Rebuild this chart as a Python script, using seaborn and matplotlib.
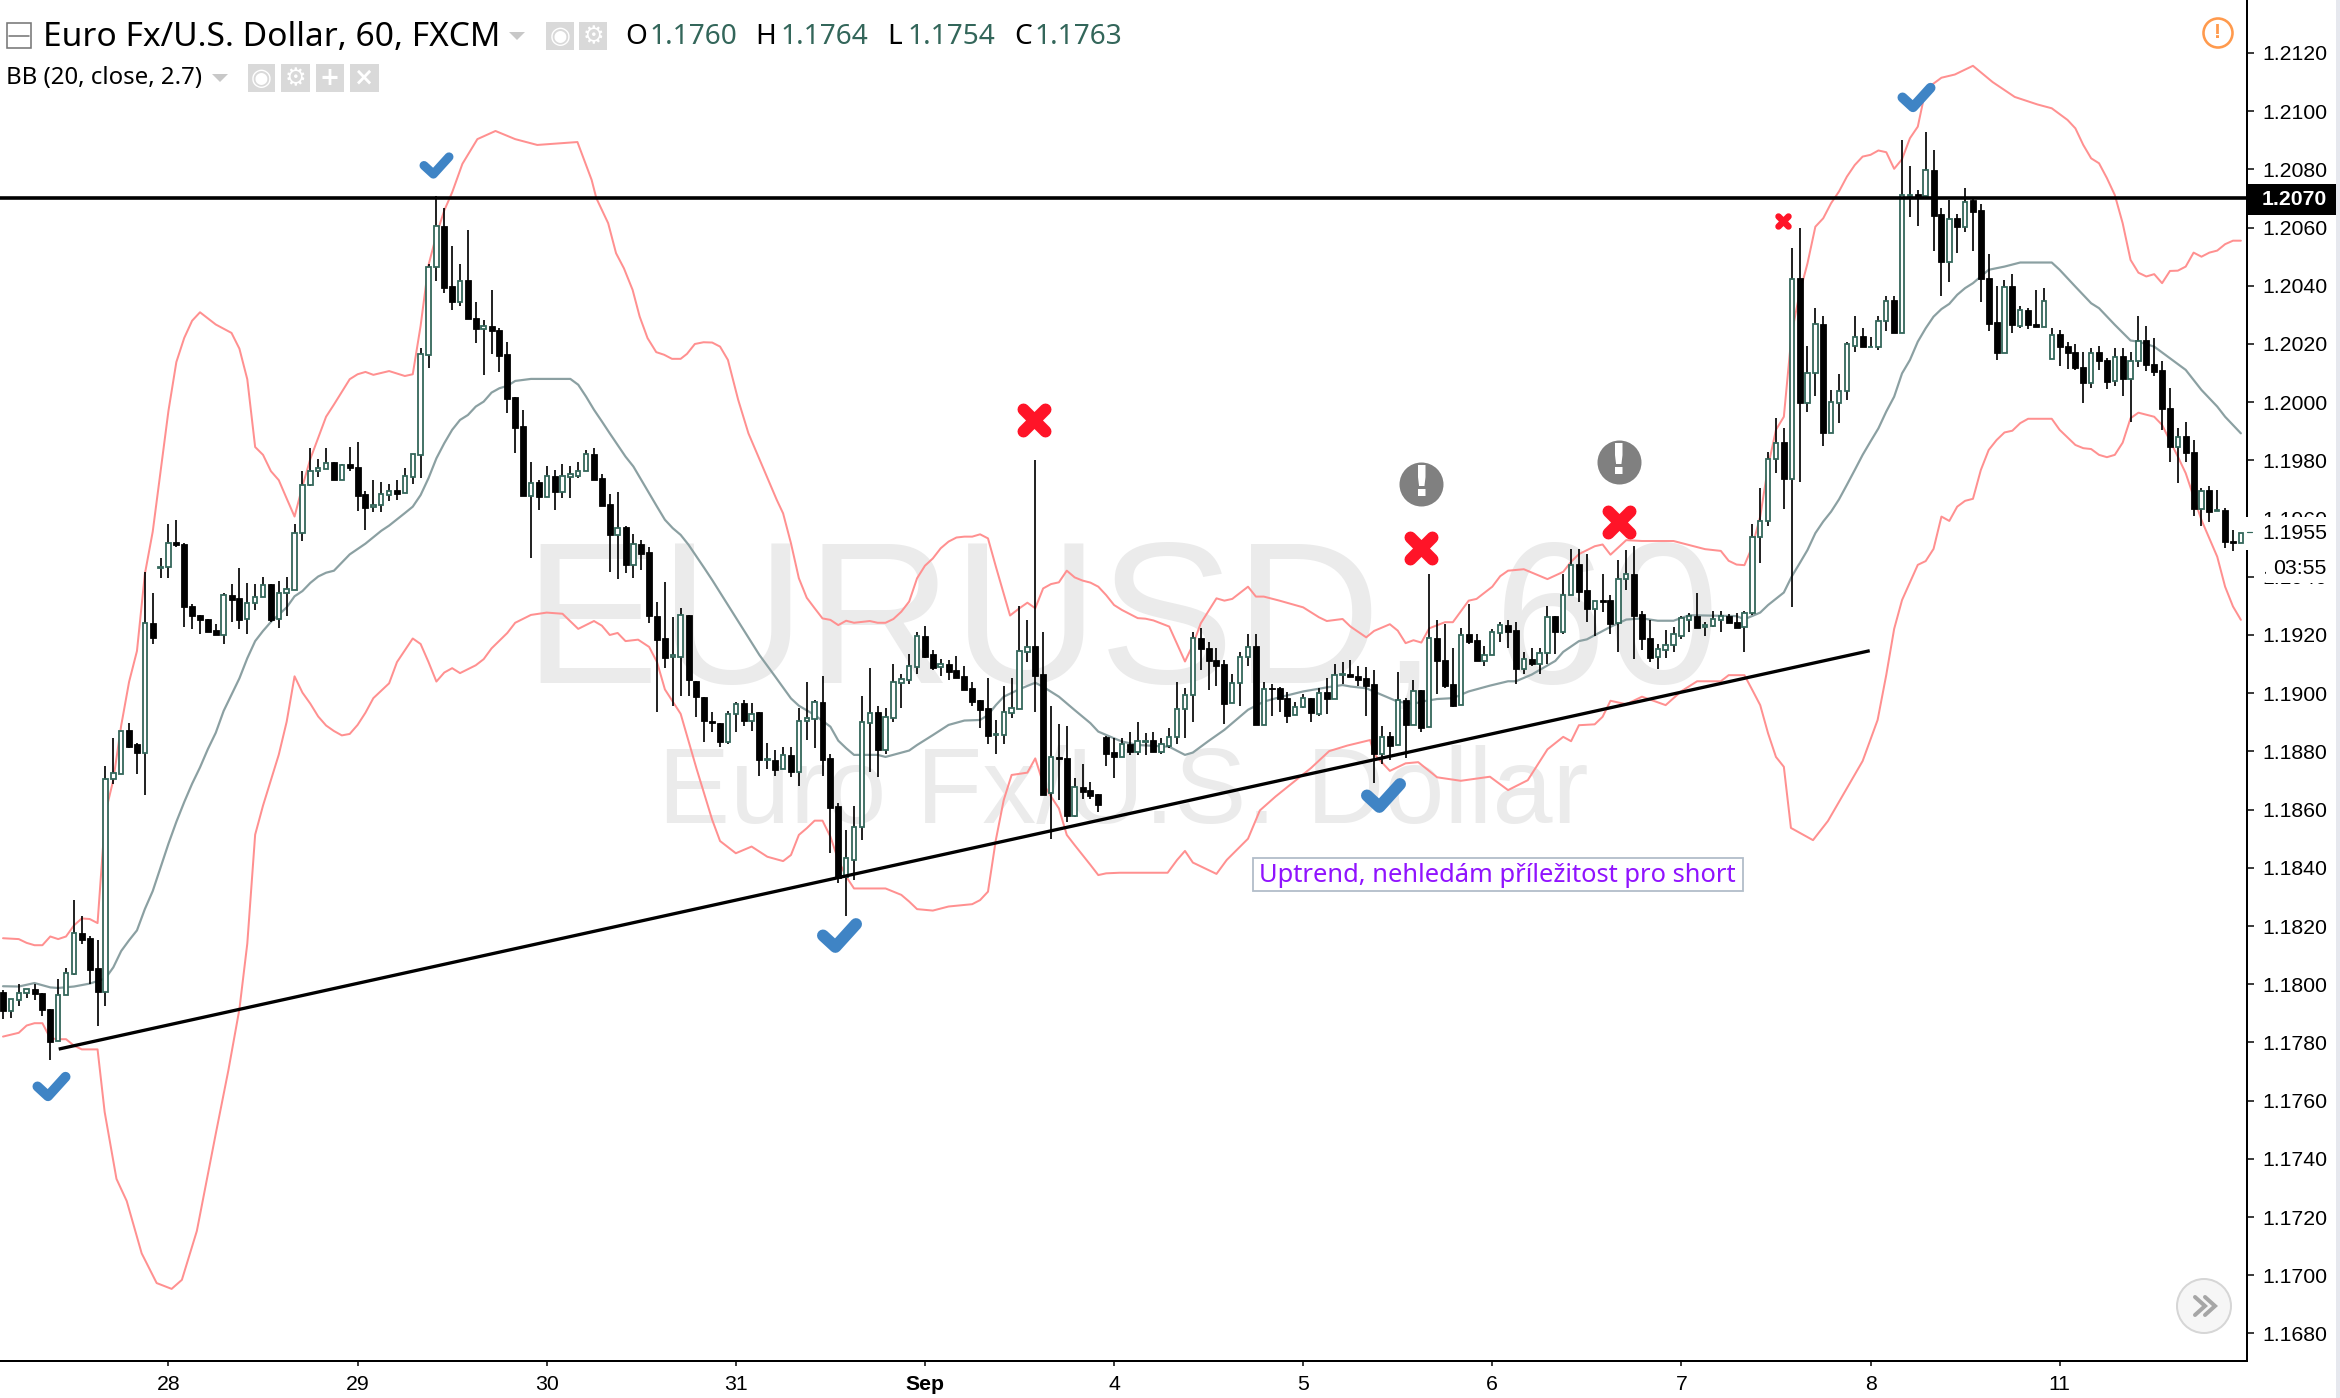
"""
Hourly EURUSD candle chart with Bollinger bands and hand drawn trade notes.
"""

import matplotlib
matplotlib.use('Agg')
import matplotlib.pyplot as plt
import numpy as np
import pandas as pd
import seaborn as sns
from matplotlib.lines import Line2D
from matplotlib.markers import MarkerStyle
from matplotlib.patches import Ellipse, Polygon, Rectangle
from matplotlib.path import Path
from matplotlib.transforms import Affine2D

opens = [
    1.17974,1.17908,1.17945,1.17969,1.17985,1.17971,1.17916,1.17804,1.17963,1.18035,
    1.18176,1.18158,1.18054,1.17974,1.18704,1.18724,1.18873,1.18824,1.18794,1.19241,
    1.19431,1.19433,1.19518,1.19511,1.19299,1.19270,1.19256,1.19216,1.19199,1.19339,
    1.19326,1.19254,1.19310,1.19330,1.19374,1.19254,1.19343,1.19356,1.19550,1.19715,
    1.19765,1.19769,1.19794,1.19734,1.19788,1.19777,1.19683,1.19640,1.19647,1.19682,
    1.19698,1.19687,1.19743,1.19818,1.20162,1.20464,1.20606,1.20400,1.20346,1.20420,
    1.20290,1.20250,1.20262,1.20249,1.20166,1.20017,1.19919,1.19679,1.19726,1.19675,
    1.19747,1.19693,1.19742,1.19747,1.19763,1.19822,1.19739,1.19649,1.19543,1.19570,
    1.19441,1.19512,1.19486,1.19267,1.19190,1.19123,1.19123,1.19269,1.19042,1.18988,
    1.18905,1.18898,1.18832,1.18930,1.18965,1.18903,1.18934,1.18769,1.18771,1.18738,
    1.18788,1.18730,1.18903,1.18910,1.18970,1.18776,1.18612,1.18370,1.18427,1.18539,
    1.18897,1.18935,1.18805,1.18916,1.19034,1.19045,1.19090,1.19197,1.19135,1.19089,
    1.19102,1.19079,1.19059,1.19017,1.18976,1.18948,1.18855,1.18855,1.18931,1.18945,
    1.19143,1.19162,1.19066,1.18656,1.18782,1.18776,1.18578,1.18679,1.18666,1.18653,
    1.18851,1.18797,1.18780,1.18825,1.18799,1.18834,1.18838,1.18799,1.18820,1.18849,
    1.18945,1.18993,1.19189,1.19154,1.19114,1.19101,1.18965,1.19034,1.19124,1.19161,
    1.18889,1.19018,1.19018,1.18984,1.18925,1.18952,1.18983,1.18928,1.19003,1.18980,
    1.19061,1.19065,1.19058,1.19051,1.19031,1.18792,1.18853,1.18821,1.18977,1.18890,
    1.19010,1.18884,1.19189,1.19113,1.19031,1.18959,1.19203,1.19183,1.19110,1.19131,
    1.19206,1.19236,1.19217,1.19082,1.19119,1.19101,1.19137,1.19265,1.19211,1.19337,
    1.19444,1.19353,1.19288,1.19319,1.19319,1.19240,1.19391,1.19409,1.19271,1.19188,
    1.19123,1.19150,1.19164,1.19197,1.19252,1.19265,1.19226,1.19232,1.19253,1.19264,
    1.19243,1.19226,1.19275,1.19536,1.19591,1.19804,1.19863,1.19736,1.20426,1.19996,
    1.20099,1.20268,1.19893,1.19996,1.20039,1.20194,1.20228,1.20189,1.20188,1.20278,
    1.20351,1.20237,1.20709,1.20716,1.20707,1.20797,1.20646,1.20483,1.20632,1.20601,
    1.20694,1.20660,1.20426,1.20275,1.20168,1.20398,1.20263,1.20317,1.20269,1.20257,
    1.20149,1.20233,1.20192,1.20172,1.20122,1.20065,1.20172,1.20145,1.20073,1.20158,
    1.20079,1.20143,1.20214,1.20130,1.20111,1.19979,1.19845,1.19884,1.19829,1.19632,
    1.19698,1.19625,1.19630,1.19523,1.19515,
]
closes = [
    1.17908,1.17949,1.17970,1.17983,1.17966,1.17911,1.17801,1.17964,1.18039,1.18176,
    1.18151,1.18049,1.17974,1.18706,1.18726,1.18871,1.18816,1.18793,1.19241,1.19189,
    1.19435,1.19516,1.19508,1.19295,1.19266,1.19251,1.19211,1.19199,1.19339,1.19321,
    1.19251,1.19310,1.19330,1.19373,1.19251,1.19345,1.19359,1.19551,1.19717,1.19763,
    1.19773,1.19792,1.19734,1.19784,1.19775,1.19679,1.19638,1.19647,1.19684,1.19696,
    1.19686,1.19745,1.19821,1.20164,1.20466,1.20604,1.20394,1.20346,1.20418,1.20285,
    1.20250,1.20262,1.20243,1.20160,1.20010,1.19913,1.19679,1.19724,1.19674,1.19745,
    1.19693,1.19745,1.19753,1.19765,1.19821,1.19734,1.19645,1.19542,1.19566,1.19439,
    1.19511,1.19479,1.19267,1.19184,1.19121,1.19130,1.19269,1.19044,1.18986,1.18903,
    1.18898,1.18832,1.18930,1.18963,1.18903,1.18930,1.18771,1.18775,1.18736,1.18788,
    1.18730,1.18905,1.18914,1.18970,1.18771,1.18607,1.18364,1.18433,1.18541,1.18900,
    1.18933,1.18805,1.18919,1.19037,1.19050,1.19092,1.19195,1.19126,1.19086,1.19100,
    1.19074,1.19053,1.19011,1.18971,1.18942,1.18854,1.18859,1.18934,1.18948,1.19146,
    1.19160,1.19060,1.18650,1.18782,1.18773,1.18578,1.18679,1.18662,1.18647,1.18615,
    1.18791,1.18780,1.18825,1.18799,1.18837,1.18837,1.18799,1.18825,1.18851,1.18947,
    1.18995,1.19188,1.19151,1.19109,1.19095,1.18963,1.19036,1.19126,1.19160,1.18889,
    1.19016,1.19014,1.18979,1.18923,1.18954,1.18983,1.18931,1.19002,1.18979,1.19064,
    1.19065,1.19054,1.19046,1.19026,1.18791,1.18851,1.18820,1.18975,1.18889,1.19009,
    1.18882,1.19188,1.19110,1.19025,1.18956,1.19201,1.19176,1.19109,1.19132,1.19209,
    1.19235,1.19211,1.19082,1.19118,1.19102,1.19139,1.19263,1.19211,1.19339,1.19441,
    1.19348,1.19288,1.19318,1.19314,1.19237,1.19394,1.19408,1.19266,1.19185,1.19122,
    1.19153,1.19166,1.19202,1.19258,1.19264,1.19225,1.19236,1.19256,1.19264,1.19240,
    1.19225,1.19276,1.19538,1.19593,1.19806,1.19861,1.19735,1.20425,1.19996,1.20102,
    1.20267,1.19893,1.19999,1.20040,1.20199,1.20225,1.20188,1.20191,1.20280,1.20349,
    1.20237,1.20712,1.20712,1.20701,1.20797,1.20641,1.20483,1.20631,1.20601,1.20689,
    1.20655,1.20422,1.20270,1.20168,1.20397,1.20264,1.20316,1.20264,1.20257,1.20349,
    1.20232,1.20189,1.20168,1.20117,1.20065,1.20170,1.20141,1.20071,1.20157,1.20079,
    1.20143,1.20212,1.20127,1.20105,1.19976,1.19845,1.19882,1.19824,1.19632,1.19696,
    1.19624,1.19629,1.19521,1.19515,1.19552,
]
highs = [
    1.17979,1.17949,1.17999,1.17983,1.18001,1.17971,1.17916,1.18019,1.18054,1.18289,
    1.18233,1.18164,1.18151,1.18749,1.18845,1.18871,1.18899,1.18829,1.19416,1.19346,
    1.19464,1.19580,1.19594,1.19516,1.19306,1.19270,1.19256,1.19239,1.19345,1.19374,
    1.19430,1.19380,1.19374,1.19401,1.19374,1.19386,1.19401,1.19580,1.19763,1.19842,
    1.19805,1.19842,1.19794,1.19788,1.19846,1.19863,1.19694,1.19733,1.19725,1.19719,
    1.19733,1.19773,1.19821,1.20186,1.20474,1.20709,1.20667,1.20537,1.20475,1.20592,
    1.20345,1.20283,1.20386,1.20254,1.20206,1.20019,1.19974,1.19795,1.19733,1.19781,
    1.19768,1.19788,1.19781,1.19795,1.19836,1.19843,1.19753,1.19685,1.19690,1.19575,
    1.19548,1.19527,1.19502,1.19315,1.19382,1.19263,1.19294,1.19269,1.19042,1.18988,
    1.18936,1.18898,1.18940,1.18971,1.18975,1.18967,1.18934,1.18829,1.18804,1.18815,
    1.18815,1.18950,1.19039,1.18977,1.19059,1.18791,1.18624,1.18530,1.18612,1.18990,
    1.19086,1.18956,1.18948,1.19100,1.19066,1.19135,1.19212,1.19231,1.19149,1.19116,
    1.19114,1.19128,1.19094,1.19039,1.18976,1.19052,1.18908,1.19025,1.19052,1.19300,
    1.19252,1.19803,1.19210,1.18956,1.18894,1.18887,1.18707,1.18757,1.18694,1.18653,
    1.18854,1.18845,1.18845,1.18866,1.18900,1.18862,1.18866,1.18845,1.18880,1.19038,
    1.19017,1.19209,1.19223,1.19175,1.19154,1.19114,1.19065,1.19140,1.19203,1.19203,
    1.19038,1.19031,1.19023,1.19003,1.18969,1.18996,1.18983,1.19017,1.19051,1.19099,
    1.19106,1.19114,1.19094,1.19091,1.19079,1.18888,1.18868,1.19072,1.18983,1.19044,
    1.19010,1.19410,1.19251,1.19238,1.19154,1.19223,1.19307,1.19203,1.19162,1.19222,
    1.19243,1.19251,1.19243,1.19140,1.19154,1.19154,1.19299,1.19265,1.19408,1.19497,
    1.19497,1.19478,1.19318,1.19408,1.19339,1.19457,1.19492,1.19505,1.19284,1.19251,
    1.19169,1.19217,1.19229,1.19265,1.19277,1.19346,1.19243,1.19284,1.19284,1.19271,
    1.19277,1.19283,1.19580,1.19704,1.19828,1.19945,1.19910,1.20529,1.20598,1.20193,
    1.20324,1.20296,1.20042,1.20097,1.20208,1.20296,1.20254,1.20225,1.20296,1.20365,
    1.20365,1.20901,1.20812,1.20729,1.20929,1.20867,1.20666,1.20695,1.20647,1.20735,
    1.20701,1.20681,1.20508,1.20400,1.20420,1.20440,1.20331,1.20323,1.20386,1.20392,
    1.20254,1.20248,1.20208,1.20200,1.20172,1.20185,1.20193,1.20151,1.20185,1.20185,
    1.20172,1.20296,1.20262,1.20221,1.20143,1.20048,1.19910,1.19931,1.19870,1.19704,
    1.19712,1.19698,1.19635,1.19561,1.19552,
]
lows = [
    1.17879,1.17885,1.17926,1.17954,1.17945,1.17891,1.17741,1.17804,1.17963,1.18030,
    1.18139,1.18001,1.17858,1.17926,1.18689,1.18724,1.18811,1.18724,1.18649,1.19170,
    1.19396,1.19396,1.19501,1.19226,1.19219,1.19204,1.19211,1.19199,1.19170,1.19245,
    1.19219,1.19204,1.19286,1.19330,1.19244,1.19225,1.19266,1.19356,1.19523,1.19711,
    1.19742,1.19769,1.19734,1.19734,1.19763,1.19627,1.19561,1.19624,1.19624,1.19659,
    1.19665,1.19687,1.19720,1.19741,1.20119,1.20415,1.20375,1.20317,1.20331,1.20285,
    1.20202,1.20092,1.20167,1.20105,1.19962,1.19824,1.19679,1.19466,1.19630,1.19675,
    1.19630,1.19672,1.19672,1.19741,1.19763,1.19734,1.19645,1.19418,1.19392,1.19412,
    1.19395,1.19424,1.19242,1.18934,1.19086,1.18957,1.18992,1.18992,1.18919,1.18832,
    1.18867,1.18815,1.18825,1.18867,1.18888,1.18871,1.18717,1.18738,1.18717,1.18738,
    1.18711,1.18680,1.18839,1.18811,1.18716,1.18450,1.18347,1.18234,1.18358,1.18496,
    1.18730,1.18711,1.18791,1.18902,1.18948,1.19033,1.19066,1.19120,1.19080,1.19059,
    1.19045,1.19051,1.19011,1.18956,1.18882,1.18827,1.18791,1.18825,1.18916,1.18945,
    1.19108,1.18937,1.18650,1.18498,1.18633,1.18559,1.18573,1.18635,1.18635,1.18593,
    1.18751,1.18710,1.18780,1.18788,1.18786,1.18786,1.18799,1.18791,1.18813,1.18826,
    1.18847,1.18902,1.19080,1.19011,1.19025,1.18894,1.18965,1.18957,1.19094,1.18889,
    1.18889,1.18923,1.18937,1.18896,1.18925,1.18948,1.18902,1.18923,1.18930,1.18980,
    1.19031,1.19054,1.19025,1.18923,1.18691,1.18758,1.18771,1.18821,1.18779,1.18890,
    1.18868,1.18884,1.18998,1.19019,1.18951,1.18959,1.19170,1.19109,1.19094,1.19131,
    1.19177,1.19156,1.19033,1.19066,1.19094,1.19066,1.19100,1.19134,1.19203,1.19337,
    1.19314,1.19244,1.19197,1.19279,1.19203,1.19142,1.19354,1.19116,1.19148,1.19108,
    1.19082,1.19122,1.19142,1.19185,1.19210,1.19225,1.19196,1.19226,1.19210,1.19240,
    1.19225,1.19142,1.19269,1.19446,1.19576,1.19756,1.19632,1.19295,1.19727,1.19968,
    1.20023,1.19851,1.19893,1.19928,1.20008,1.20174,1.20188,1.20189,1.20180,1.20243,
    1.20237,1.20237,1.20636,1.20607,1.20707,1.20518,1.20366,1.20414,1.20511,1.20586,
    1.20518,1.20346,1.20243,1.20145,1.20168,1.20237,1.20256,1.20251,1.20257,1.20257,
    1.20149,1.20125,1.20113,1.20111,1.19996,1.20050,1.20111,1.20044,1.20057,1.20022,
    1.19933,1.20120,1.20107,1.20091,1.19905,1.19796,1.19721,1.19796,1.19610,1.19576,
    1.19590,1.19625,1.19500,1.19487,1.19515,
]

# bollinger bands, read bar by bar where they bend
upper_bar = [0,2,3,4,5,6,7,8,9,10,11,12,13,14,15,16,17,18,19,20,21,22,23,24,25,27,29,30,31,32,33,34,35,36,37,38,39,40,41,42,44,45,46,47,49,51,52,53,54,55,56,57,58.3,60.2,62.5,65,67.8,72.9,74.7,75.3,76.8,77.8,78.8,79.9,80.8,81.8,82.9,83.9,84.9,86,86.8,87.8,88.9,90,91,92,93.3,94.6,98.2,99,100,101,102,103,104,105,106,107,108,110,111,112,113,114,115,116,117,118,119,120,121,122,123,124,125,126,127.8,129,130,131,132,133,134,135,136,137,138,139,140,141,142,144,145,146,148,150,151,152,154,155,156,158,159,160,162,165,167,168,170,171,173,174,176,177,178,179,180,181,183,184,186,187,189,190,191,193,196,198,199,200,202,203,204,206,208,212,216,218,219,220,221,222,223,224,225,226,227,228,229,230,231,232,233,234,235,236,237,238,239,240,241,242,243,244,246,247.7,250,252.5,255.3,258.2,260,261,262,263,264,265,266,267,268,269,270,271,272,273,274,275,276,277,278,279,280,281,282,283,284]
upper_val = [1.18158,1.18155,1.18142,1.18134,1.18134,1.18164,1.18155,1.18164,1.18202,1.18226,1.18224,1.18210,1.18589,1.18702,1.18889,1.19039,1.19145,1.19409,1.19555,1.19763,1.19971,1.20138,1.20221,1.20280,1.20309,1.20267,1.20238,1.20184,1.20079,1.19846,1.19819,1.19763,1.19732,1.19669,1.19607,1.19711,1.19805,1.19877,1.19950,1.19992,1.20079,1.20096,1.20104,1.20094,1.20107,1.20090,1.20096,1.20263,1.20471,1.20575,1.20659,1.20721,1.20819,1.20904,1.20932,1.20904,1.20884,1.20894,1.20764,1.20701,1.20615,1.20512,1.20460,1.20386,1.20294,1.20220,1.20172,1.20163,1.20149,1.20149,1.20166,1.20200,1.20206,1.20205,1.20191,1.20145,1.20008,1.19893,1.19664,1.19618,1.19515,1.19395,1.19328,1.19292,1.19257,1.19252,1.19234,1.19249,1.19242,1.19248,1.19242,1.19242,1.19255,1.19280,1.19315,1.19395,1.19438,1.19463,1.19498,1.19521,1.19535,1.19538,1.19538,1.19546,1.19532,1.19435,1.19267,1.19292,1.19311,1.19292,1.19360,1.19375,1.19381,1.19421,1.19398,1.19387,1.19380,1.19366,1.19337,1.19303,1.19286,1.19258,1.19256,1.19250,1.19229,1.19109,1.19166,1.19240,1.19326,1.19318,1.19324,1.19366,1.19332,1.19332,1.19318,1.19295,1.19261,1.19248,1.19255,1.19229,1.19192,1.19214,1.19237,1.19215,1.19172,1.19182,1.19174,1.19223,1.19244,1.19244,1.19318,1.19324,1.19366,1.19402,1.19421,1.19426,1.19392,1.19417,1.19452,1.19478,1.19505,1.19511,1.19476,1.19526,1.19523,1.19523,1.19495,1.19489,1.19455,1.19442,1.19440,1.19504,1.19607,1.19779,1.19905,1.19950,1.20237,1.20374,1.20477,1.20603,1.20632,1.20684,1.20724,1.20775,1.20815,1.20844,1.20850,1.20865,1.20859,1.20802,1.20835,1.20907,1.20947,1.21075,1.21115,1.21126,1.21156,1.21100,1.21049,1.21023,1.21010,1.20990,1.20970,1.20941,1.20884,1.20838,1.20821,1.20770,1.20712,1.20615,1.20489,1.20445,1.20432,1.20440,1.20409,1.20451,1.20452,1.20466,1.20514,1.20500,1.20514,1.20521,1.20543,1.20555,1.20555]
mid_bar = [0,2,4,6,7,9,11,13,14,15,16,17,18,19,20,21,22,23,24,25,26,27,28,29,30,31,32,33,34,35,36,37,38,39,40,41,42,44,46,48,49,51,52,53,54,55,56,57,58,59,60,61,62,63,64,65,67,72,73,74,75,76,77,78,79,80,81,82,83,84,85,86,87,88,89,90,94.8,96,98,100,101,103,105,106,107,108,111,112,115,116,118,120,122,124,125,126,127,129,131,132,134,136,138,139,141,142,144,146,148,150,151,153,155,157,158,160,162,165,168,170,171,173,175,177,179,180,182,184,186,188.7,191,192,194,197,198,200,201,204,206,208,210,212,214,220,221,223,224,226,227,228,229,230,231,232,233,234,235,236,237,238,239,240,241,242,243,244,245,246,247,248,249,250,251,252,254,256,260,261,263,265,266,268,270,271,273,275,277,279,281,282,284]
mid_val = [1.17993,1.17992,1.18004,1.17989,1.17987,1.17992,1.18002,1.18020,1.18058,1.18114,1.18151,1.18185,1.18258,1.18320,1.18401,1.18483,1.18558,1.18626,1.18689,1.18745,1.18808,1.18864,1.18939,1.18995,1.19051,1.19120,1.19179,1.19214,1.19245,1.19270,1.19295,1.19333,1.19351,1.19379,1.19401,1.19414,1.19421,1.19477,1.19514,1.19558,1.19576,1.19619,1.19641,1.19681,1.19739,1.19807,1.19859,1.19905,1.19939,1.19956,1.19985,1.20002,1.20033,1.20048,1.20056,1.20073,1.20080,1.20080,1.20060,1.20019,1.19974,1.19934,1.19893,1.19853,1.19813,1.19779,1.19733,1.19687,1.19641,1.19596,1.19567,1.19544,1.19510,1.19470,1.19430,1.19389,1.19183,1.19131,1.19057,1.18982,1.18957,1.18925,1.18885,1.18837,1.18811,1.18788,1.18788,1.18781,1.18803,1.18822,1.18856,1.18891,1.18906,1.18908,1.18925,1.18959,1.18988,1.19014,1.19036,1.19022,1.18988,1.18942,1.18897,1.18868,1.18845,1.18834,1.18822,1.18819,1.18816,1.18788,1.18796,1.18836,1.18874,1.18920,1.18943,1.18971,1.18986,1.19006,1.19020,1.19028,1.19023,1.19017,1.18994,1.18971,1.18963,1.18971,1.18980,1.18983,1.19006,1.19026,1.19041,1.19041,1.19064,1.19111,1.19142,1.19179,1.19185,1.19228,1.19253,1.19257,1.19249,1.19249,1.19268,1.19265,1.19254,1.19277,1.19303,1.19346,1.19401,1.19446,1.19492,1.19550,1.19590,1.19624,1.19666,1.19716,1.19767,1.19819,1.19865,1.19910,1.19968,1.20019,1.20099,1.20145,1.20208,1.20254,1.20294,1.20320,1.20338,1.20369,1.20392,1.20409,1.20432,1.20455,1.20466,1.20480,1.20480,1.20455,1.20397,1.20340,1.20323,1.20266,1.20212,1.20208,1.20191,1.20151,1.20111,1.20042,1.19985,1.19950,1.19893]
lower_bar = [0,2,3,4,5,6,7,8,9,10,12,12.9,14.4,15.7,17.6,19.5,21.4,22.7,24.6,27,28.6,29,30,31,32,33,34,35,36,37,38,39,40,41,42,43,44,45,46,47,49,50,52,53,54,55,56,57,58,60,61,62,64,65,67,69,71,73,75,76,77,78,79,80.6,82,83,84,86,88,90,91,93,95,97,99,100,101,102,103,104,105,106,107,108,112,114,115,116,118,120,123,124,125,126,127,128,130,131,132,133,134,135,136,137,138,139,140,141.7,147.8,149,150,151,154,155.3,158,159.5,161.5,166,168.3,170.6,173.5,174,176,178,179.6,182,185,188.7,191,193.5,196,198,199,200,202,203,204,206,208,211,213,215,218,219,221,222,223,224,225,226,226.9,229.7,231.6,236,237.9,239,240,241,243,244,245,246,247,248,249,250,251,252,253,254,255,256,257,260,261,263,264,265,266,267,268,269,270,271,273,274,276,277,279,281,282,283,284]
lower_val = [1.17820,1.17833,1.17858,1.17866,1.17866,1.17814,1.17811,1.17811,1.17789,1.17776,1.17776,1.17561,1.17331,1.17255,1.17075,1.16973,1.16953,1.16984,1.17152,1.17486,1.17704,1.17764,1.17914,1.18139,1.18514,1.18614,1.18702,1.18789,1.18902,1.19058,1.19002,1.18964,1.18920,1.18889,1.18870,1.18855,1.18860,1.18891,1.18933,1.18983,1.19034,1.19107,1.19188,1.19169,1.19107,1.19040,1.19071,1.19086,1.19069,1.19096,1.19117,1.19154,1.19207,1.19242,1.19269,1.19277,1.19273,1.19221,1.19248,1.19232,1.19200,1.19207,1.19179,1.19184,1.19159,1.19107,1.19013,1.18929,1.18742,1.18565,1.18492,1.18450,1.18473,1.18438,1.18423,1.18444,1.18513,1.18536,1.18562,1.18562,1.18507,1.18427,1.18370,1.18329,1.18329,1.18307,1.18284,1.18258,1.18253,1.18267,1.18275,1.18289,1.18318,1.18496,1.18633,1.18719,1.18727,1.18776,1.18690,1.18645,1.18604,1.18513,1.18478,1.18444,1.18410,1.18375,1.18381,1.18383,1.18383,1.18427,1.18458,1.18418,1.18379,1.18427,1.18500,1.18597,1.18645,1.18743,1.18801,1.18820,1.18839,1.18791,1.18733,1.18759,1.18763,1.18711,1.18699,1.18713,1.18667,1.18701,1.18807,1.18850,1.18835,1.18890,1.18893,1.18919,1.18974,1.18962,1.18988,1.18959,1.19007,1.19041,1.19041,1.19062,1.19062,1.19011,1.18959,1.18862,1.18781,1.18747,1.18537,1.18495,1.18561,1.18767,1.18908,1.19063,1.19221,1.19320,1.19441,1.19454,1.19496,1.19607,1.19592,1.19641,1.19661,1.19668,1.19767,1.19836,1.19870,1.19896,1.19902,1.19928,1.19943,1.19943,1.19905,1.19853,1.19842,1.19839,1.19819,1.19811,1.19819,1.19861,1.19945,1.19964,1.19950,1.19922,1.19813,1.19756,1.19595,1.19469,1.19366,1.19298,1.19252]

# price axis and date axis
price_ticks = [1.168, 1.170, 1.172, 1.174, 1.176, 1.178, 1.180, 1.182, 1.184, 1.186, 1.188,
               1.190, 1.192, 1.194, 1.196, 1.198, 1.200, 1.202, 1.204, 1.206, 1.208, 1.210, 1.212]
date_bars = [21, 45, 69, 93, 117, 141, 165, 189, 213, 237, 261]
date_labels = ['28', '29', '30', '31', 'Sep', '4', '5', '6', '7', '8', '11']

# drawings on the chart
level_price = 1.2070
trend_bars = [7.07, 236.9]
trend_prices = [1.17777, 1.19146]
check_bars = [6.1, 55, 106.1, 175.1, 242.8]
check_prices = [1.17650, 1.20815, 1.18169, 1.18650, 1.21049]
cross_bars = [130.8, 180, 205.1, 225.9]
cross_prices = [1.19939, 1.19499, 1.19588, 1.20623]
alert_bars = [180, 205.1]
alert_prices = [1.19719, 1.19795]

W, H = 2340, 1398
GREEN = '#33665a'
GREY_ICON = '#d9d9d9'

sns.set_theme(style='white')
plt.rcParams['font.family'] = ['Liberation Sans', 'DejaVu Sans']

fig = plt.figure(figsize=(W / 100, H / 100), dpi=100, facecolor='white')
ax = fig.add_axes([0, 1 - 1360.7 / H, 2246.7 / W, 1360.7 / H])
px = Affine2D().scale(1, -1).translate(0, H)  # overlay coordinates, y down


def pw(pixels):
    """Pixels to points at this dpi."""
    return pixels * 0.72


ax.set_xlim(-0.381, 284.74)
ax.set_ylim(1.167062, 1.213821)

# watermarks behind everything
ax.text(1122, 683, 'EURUSD, 60', transform=px, ha='center', va='baseline',
        fontsize=pw(203), color='#ebebeb', zorder=0)
ax.text(1123, 823, 'Euro Fx/U.S. Dollar', transform=px, ha='center', va='baseline',
        fontsize=pw(108), color='#ebebeb', zorder=0)

# bollinger bands
for bars, vals, col, lw in [(upper_bar, upper_val, '#ff9090', 2.0),
                            (lower_bar, lower_val, '#ff9090', 2.0),
                            (mid_bar, mid_val, '#8ba0a2', 2.2)]:
    band = pd.DataFrame({'bar': bars, 'price': vals})
    sns.lineplot(data=band, x='bar', y='price', ax=ax, color=col, linewidth=pw(lw),
                 estimator=None, sort=False, zorder=2)

# candles
candles = pd.DataFrame({'open': opens, 'high': highs, 'low': lows, 'close': closes})
candles['bar'] = np.arange(len(candles))
up = candles[candles['close'] >= candles['open']]
down = candles[candles['close'] < candles['open']]
ax.vlines(candles['bar'], candles['low'], candles['high'], color='black', linewidth=pw(1.7), zorder=3)
ax.bar(up['bar'], up['close'] - up['open'], bottom=up['open'], width=0.56,
       facecolor='white', edgecolor=GREEN, linewidth=pw(1.8), zorder=4)
ax.bar(down['bar'], down['open'] - down['close'], bottom=down['close'], width=0.76,
       facecolor='black', edgecolor='black', linewidth=pw(0.8), zorder=4)

# level and trend line
ax.axhline(level_price, color='black', linewidth=pw(3.6), zorder=5)
ax.plot(trend_bars, trend_prices, color='black', linewidth=pw(3.3), zorder=5, solid_capstyle='butt')

# checks and crosses
check_path = Path([(-1, 0), (-0.25, -0.69), (1, 0.69)], [Path.MOVETO, Path.LINETO, Path.LINETO])
cross_path = Path([(-1, -1), (1, 1), (-1, 1), (1, -1)],
                  [Path.MOVETO, Path.LINETO, Path.MOVETO, Path.LINETO])
check_marker = MarkerStyle(check_path, capstyle='round', joinstyle='round')
cross_marker = MarkerStyle(cross_path, capstyle='round', joinstyle='round')
for x, y, size, edge in zip(check_bars, check_prices, [28, 25, 33, 33, 28], [10, 9, 12, 12, 10]):
    ax.plot([x], [y], marker=check_marker, markersize=pw(size), mfc='none', mec='#3f84c5',
            mew=pw(edge), zorder=6, clip_on=False)
for x, y, size, edge in zip(cross_bars, cross_prices, [22, 22, 22, 10], [12, 12, 12, 6.5]):
    ax.plot([x], [y], marker=cross_marker, markersize=pw(size), mfc='none', mec='#ff1428',
            mew=pw(edge), zorder=6)
for x, y in zip(alert_bars, alert_prices):
    ax.plot([x], [y], marker='o', markersize=pw(44), mfc='#808080', mec='none', zorder=6)
    ax.text(x, y, '!', color='white', fontsize=pw(43), fontweight='bold', family='DejaVu Sans',
            ha='center', va='center', zorder=7)

# note under the trend line
ax.add_patch(Rectangle((1253, 857.5), 490, 33, transform=px, facecolor='white',
                       edgecolor='#b2bdc9', linewidth=pw(1.8), zorder=6))
ax.text(1497, 875, 'Uptrend, nehledám příležitost pro short', transform=px, color='#9013fe',
        family='Noto Sans', fontsize=pw(25.5), ha='center', va='center', zorder=7)

# axes
for side in ['top', 'left']:
    ax.spines[side].set_visible(False)
for side in ['right', 'bottom']:
    ax.spines[side].set_color('black')
    ax.spines[side].set_linewidth(pw(2))
ax.yaxis.tick_right()
ax.set_yticks(price_ticks)
ax.set_yticklabels([f'{t:.4f}' for t in price_ticks])
ax.set_xticks(date_bars)
ax.set_xticklabels(date_labels)
ax.tick_params(axis='y', length=pw(6.5), width=pw(1.5), color='black', pad=pw(9),
               labelsize=pw(21.3), labelcolor='black', right=True)
ax.tick_params(axis='x', length=pw(5), width=pw(1.5), color='black', pad=pw(9),
               labelsize=pw(21.3), labelcolor='black', bottom=True)
ax.get_xticklabels()[4].set_fontweight('bold')
ax.set_xlabel('')
ax.set_ylabel('')

# price tags on the axis
fig.add_artist(Rectangle((2247, 184), 89, 31, transform=px, facecolor='black', edgecolor='none', zorder=3))
fig.text(2327, 199.5, '1.2070', transform=px, color='white', fontsize=pw(21.3), fontweight='bold',
         ha='right', va='center', zorder=4)
fig.add_artist(Rectangle((2245, 517), 91, 33, transform=px, facecolor='white', edgecolor='none', zorder=3))
fig.add_artist(Rectangle((2266, 550), 70, 33, transform=px, facecolor='white', edgecolor='none', zorder=3))
fig.add_artist(Line2D([2247, 2252], [532, 532], transform=px, color=GREEN, linewidth=pw(1.2), zorder=4))
fig.text(2327, 533.5, '1.1955', transform=px, color='black', fontsize=pw(21.3), ha='right', va='center', zorder=4)
fig.text(2327, 569, '03:55', transform=px, color='black', fontsize=pw(21.3), ha='right', va='center', zorder=4)
fig.add_artist(Rectangle((2336, 0), 4, H, transform=px, facecolor='#e6e8ee', edgecolor='none', zorder=3))

# chart header
fig.add_artist(Rectangle((7, 23), 24, 25, transform=px, facecolor='white', edgecolor='#777777', linewidth=pw(1.6), zorder=3))
fig.add_artist(Line2D([9, 29], [35.5, 35.5], transform=px, color='#777777', linewidth=pw(1.6), zorder=4))
fig.text(43, 37, 'Euro Fx/U.S. Dollar, 60, FXCM', transform=px, color='black', family='Noto Sans',
         fontsize=pw(33.6), ha='left', va='center', zorder=4)
fig.text(6, 78, 'BB (20, close, 2.7)', transform=px, color='black', family='Noto Sans',
         fontsize=pw(24), ha='left', va='center', zorder=4)
for tx, ty in [(517, 36), (220, 78)]:
    fig.add_artist(Polygon([(tx - 8, ty - 4), (tx + 8, ty - 4), (tx, ty + 4)], transform=px,
                           facecolor='#c8c8c8', edgecolor='none', zorder=3))
for x0, width, y0, glyph in [(546, 28, 22, '◉'), (579, 28, 22, '⚙'), (248, 27, 64, '◉'),
                             (281, 29, 64, '⚙'), (316, 28, 64, '+'), (350, 29, 64, '×')]:
    fig.add_artist(Rectangle((x0, y0), width, 28, transform=px, facecolor=GREY_ICON, edgecolor='none', zorder=3))
    fig.text(x0 + width / 2, y0 + 14, glyph, transform=px, color='white', family='DejaVu Sans',
             fontsize=pw(24), fontweight='bold', ha='center', va='center', zorder=4)
for name, x_name, value, x_value in [('O', 625, '1.1760', 649), ('H', 755, '1.1764', 780),
                                     ('L', 887, '1.1754', 907), ('C', 1014, '1.1763', 1034)]:
    fig.text(x_name, 37, name, transform=px, color='black', family='Noto Sans', fontsize=pw(28),
             ha='left', va='center', zorder=4)
    fig.text(x_value, 37, value, transform=px, color=GREEN, family='Noto Sans', fontsize=pw(28),
             ha='left', va='center', zorder=4)

# warning sign and the scroll button
fig.add_artist(Ellipse((2218, 33), 29, 29, transform=px, facecolor='white', edgecolor='#ff9a4d',
                       linewidth=pw(2.6), zorder=3))
fig.text(2218, 33, '!', transform=px, color='#ff9a4d', fontsize=pw(21), fontweight='bold',
         ha='center', va='center', zorder=4)
fig.add_artist(Ellipse((2204, 1306), 54, 54, transform=px, facecolor='#f6f6f6', edgecolor='#d6d6d6',
                       linewidth=pw(2), zorder=3))
for shift in [0, 10]:
    fig.add_artist(Line2D([2195 + shift, 2205 + shift, 2195 + shift], [1297, 1306, 1315], transform=px,
                          color='#a6a6a6', linewidth=pw(4), zorder=4, solid_joinstyle='miter'))

plt.savefig('out.png', dpi=100, facecolor='white')
